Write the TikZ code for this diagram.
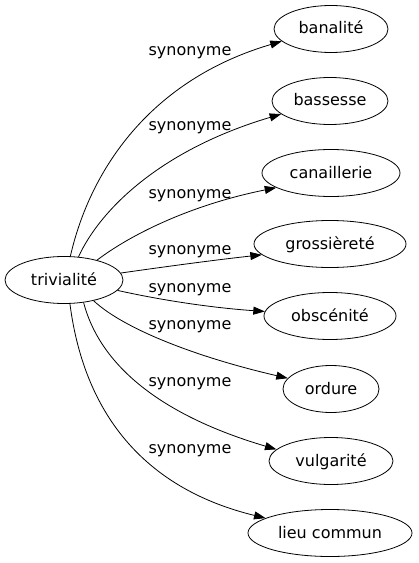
\documentclass[tikz,border=0pt]{standalone}
\usepackage{fontspec}
\setmainfont{DejaVu Sans}
\usetikzlibrary{shapes.geometric,arrows.meta}
\begin{document}
\begin{tikzpicture}[x=1bp,y=-1bp,
  every node/.style={font=\fontsize{16bp}{19bp}\selectfont},
  word/.style={draw,ellipse,line width=0.8bp,inner sep=0pt,minimum height=47bp,text height=12bp,text depth=2bp},
  rel/.style={line width=0.8bp,-{Triangle[length=11.5bp,width=8bp]}},
  lab/.style={anchor=base,inner sep=0pt}]
\useasboundingbox (0,0) rectangle (418,563);
\node[word,minimum width=118bp] (triv) at (64,280) {trivialité};
\node[word,minimum width=114bp] (n1) at (331,29) {banalité};
\node[word,minimum width=116bp] (n2) at (330,101) {bassesse};
\node[word,minimum width=138bp] (n3) at (331,173) {canaillerie};
\node[word,minimum width=152bp] (n4) at (330,244) {grossièreté};
\node[word,minimum width=132bp] (n5) at (330,316) {obscénité};
\node[word,minimum width=96bp] (n6) at (331,389) {ordure};
\node[word,minimum width=124bp] (n7) at (331,461) {vulgarité};
\node[word,minimum width=164bp] (n8) at (330,533) {lieu commun};
\draw[rel] (triv.75) .. controls (90,170) and (150,80) .. (n1.194);
\draw[rel] (triv.58) .. controls (100,210) and (160,150) .. (n2.195);
\draw[rel] (triv.31) .. controls (130,235) and (190,205) .. (n3.195);
\draw[rel] (triv.7) .. controls (170,266) and (215,260) .. (n4.189);
\draw[rel] (triv.-11) .. controls (165,301) and (215,308) .. (n5.176);
\draw[rel] (triv.-35) .. controls (125,330) and (200,358) .. (n6.166);
\draw[rel] (triv.-49) .. controls (100,365) and (160,415) .. (n7.168);
\draw[rel] (triv.-76) .. controls (85,420) and (150,490) .. (n8.167);
\node[lab] (l1) at (190,56) {synonyme};
\node[lab] (l2) at (190,131) {synonyme};
\node[lab] (l3) at (190,198) {synonyme};
\node[lab] (l4) at (190,254) {synonyme};
\node[lab] (l5) at (190,292) {synonyme};
\node[lab] (l6) at (190,329) {synonyme};
\node[lab] (l7) at (190,386) {synonyme};
\node[lab] (l8) at (190,453) {synonyme};
\end{tikzpicture}
\end{document}
